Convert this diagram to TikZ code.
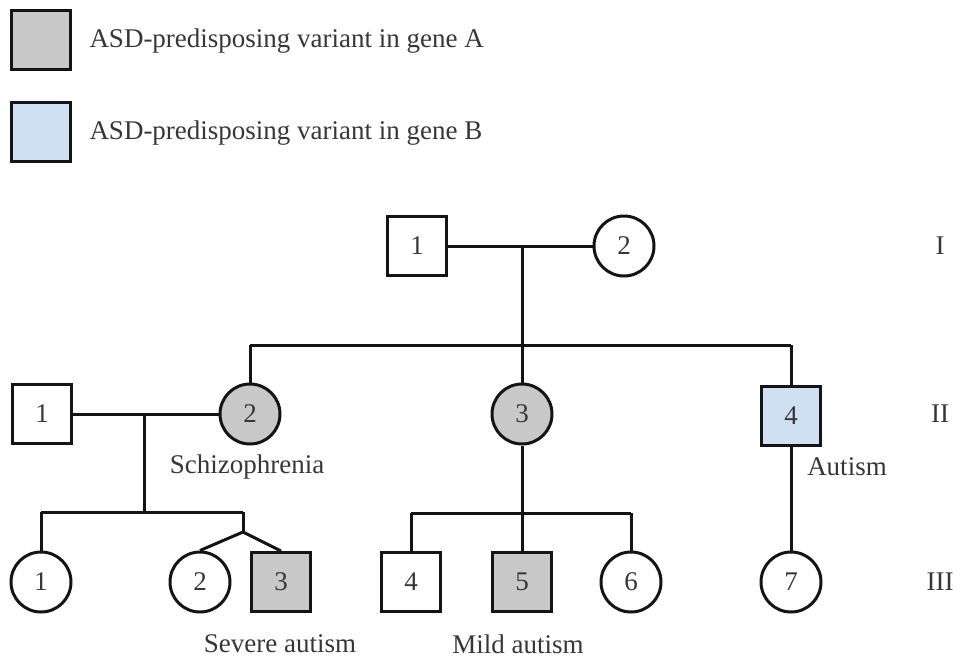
\documentclass[tikz,border=0pt]{standalone}
\usepackage{fontspec}
\setmainfont{Liberation Serif}
\definecolor{affA}{RGB}{200,200,200}
\definecolor{affB}{RGB}{207,224,242}
\definecolor{ink}{RGB}{20,20,20}
\begin{document}
\begin{tikzpicture}[x=1pt,y=-1pt,
  line width=3pt, draw=ink,
  every node/.style={font=\fontsize{27}{31}\selectfont, text=ink!85},
  male/.style={draw=ink, rectangle, minimum size=59pt, inner sep=0pt, line width=3pt, fill=white},
  female/.style={draw=ink, circle, minimum size=60pt, inner sep=0pt, line width=3pt, fill=white},
  geneA/.style={fill=affA},
  geneB/.style={fill=affB},
  lbl/.style={inner sep=0pt, anchor=center},
  link/.style={line width=3pt, draw=ink}]
\useasboundingbox (0,0) rectangle (961,659);
% legend
\node[male, geneA] (legA) at (41,40) {};
\node[lbl, anchor=west] (legAt) at (88,41) {ASD-predisposing variant in gene A};
\node[male, geneB] (legB) at (41,132) {};
\node[lbl, anchor=west] (legBt) at (88,133) {ASD-predisposing variant in gene B};
% generation labels
\node[lbl] (gI) at (940,246) {I};
\node[lbl] (gII) at (940,414) {II};
\node[lbl] (gIII) at (940,582) {III};
% generation I
\node[male] (I1) at (417,246) {1};
\node[female] (I2) at (624,246) {2};
\coordinate (m1) at (522,246);
\coordinate (s1) at (522,345);
\coordinate (s1l) at (250,345);
\coordinate (s1r) at (791,345);
% generation II
\node[male] (II1) at (42,414) {1};
\node[female, geneA] (II2) at (250,414) {2};
\node[female, geneA] (II3) at (522,414) {3};
\node[male, geneB] (II4) at (791,416) {4};
\node[lbl] (schiz) at (247,467) {Schizophrenia};
\node[lbl] (aut) at (847,467) {Autism};
\coordinate (m2) at (144,414);
\coordinate (s2) at (144,512);
\coordinate (s2l) at (41,512);
\coordinate (s2r) at (243,512);
\coordinate (tw) at (243,532);
\coordinate (s3l) at (411,513);
\coordinate (s3r) at (631,513);
% generation III
\node[female] (III1) at (41,582) {1};
\node[female] (III2) at (200,582) {2};
\node[male, geneA] (III3) at (281,582) {3};
\node[male] (III4) at (411,582) {4};
\node[male, geneA] (III5) at (522,582) {5};
\node[female] (III6) at (631,582) {6};
\node[female] (III7) at (791,582) {7};
\node[lbl] (sev) at (280,644) {Severe autism};
\node[lbl] (mild) at (518,644) {Mild autism};
% connectors
\draw[link] (I1) -- (I2);
\draw[link] (m1) -- (s1);
\draw[link] (s1l) -- (s1r);
\draw[link] (s1l) -- (II2);
\draw[link] (s1) -- (II3);
\draw[link] (s1r) -- (II4);
\draw[link] (II1) -- (II2);
\draw[link] (m2) -- (s2);
\draw[link] (s2l) -- (s2r);
\draw[link] (s2l) -- (III1);
\draw[link] (s2r) -- (tw);
\draw[link] (tw) -- (III2.north);
\draw[link] (tw) -- (III3.north);
\draw[link] (II3) -- (III5);
\draw[link] (s3l) -- (s3r);
\draw[link] (s3l) -- (III4);
\draw[link] (s3r) -- (III6);
\draw[link] (II4) -- (III7);
\end{tikzpicture}
\end{document}
